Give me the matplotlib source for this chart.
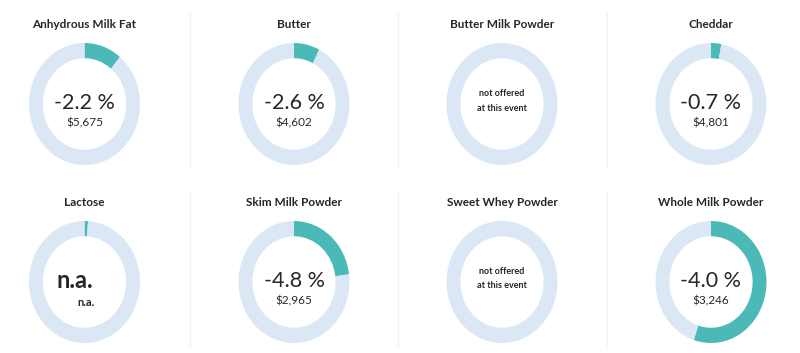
import matplotlib
matplotlib.use("Agg")
import matplotlib.pyplot as plt

products = ["Anhydrous Milk Fat", "Butter", "Butter Milk Powder", "Cheddar",
            "Lactose", "Skim Milk Powder", "Sweet Whey Powder", "Whole Milk Powder"]
pct_labels = ["-2.2 %", "-2.6 %", None, "-0.7 %", "n.a.", "-4.8 %", None, "-4.0 %"]
price_labels = ["$5,675", "$4,602", None, "$4,801", "n.a.", "$2,965", None, "$3,246"]
arc_share = [0.11, 0.075, None, 0.03, 0.01, 0.23, None, 0.55]

W, H = 800, 353
TEAL = "#4cb9b9"
LIGHT = "#dce7f5"
TXT = "#262626"
FONT = ["Lato", "DejaVu Sans"]

fig = plt.figure(figsize=(8, 3.53), dpi=100)
fig.patch.set_facecolor("white")

col_cx = [84.5, 294, 502, 711]
row_cy = [104, 282]
title_y = [24, 202]
rx, ry = 55.5, 61

def fx(x):
    return x / W

def fy(y):
    return 1 - y / H

# faint separators
for sx in [189.5, 398, 606.5]:
    for (y0, y1) in [(13, 167), (191, 345)]:
        fig.add_artist(plt.Line2D([fx(sx), fx(sx)], [fy(y0), fy(y1)],
                                  color="#f1f1f1", lw=1, transform=fig.transFigure))

for i, name in enumerate(products):
    r, c = divmod(i, 4)
    cx, cy = col_cx[c], row_cy[r]
    ax = fig.add_axes([fx(cx - rx), fy(cy + ry), 2 * rx / W, 2 * ry / H])
    share = arc_share[i]
    if share is None:
        vals, cols = [1], [LIGHT]
    else:
        vals, cols = [share, 1 - share], [TEAL, LIGHT]
    wedges, _ = ax.pie(vals, colors=cols, startangle=90, counterclock=False,
                       radius=1, wedgeprops=dict(width=0.25, linewidth=0))
    for w in wedges:
        w.set_clip_on(False)
    ax.set_aspect("auto")
    ax.set_xlim(-1, 1)
    ax.set_ylim(-1, 1)
    ax.axis("off")

    fig.text(fx(cx), fy(title_y[r]), name, ha="center", va="center",
             fontsize=8.5, fontweight="bold", color=TXT, family=FONT)

    if pct_labels[i] is None:
        fig.text(fx(cx), fy(cy - 11), "not offered", ha="center", va="center",
                 fontsize=6.5, fontweight="bold", color=TXT, family=FONT)
        fig.text(fx(cx), fy(cy + 4), "at this event", ha="center", va="center",
                 fontsize=6.5, fontweight="bold", color=TXT, family=FONT)
    elif pct_labels[i] == "n.a.":
        fig.text(fx(cx - 10), fy(cy - 2), pct_labels[i], ha="center", va="center",
                 fontsize=17, fontweight="bold", color=TXT, family=FONT)
        fig.text(fx(cx + 1), fy(cy + 20), price_labels[i], ha="center", va="center",
                 fontsize=8, fontweight="bold", color=TXT, family=FONT)
    else:
        fig.text(fx(cx), fy(cy - 1), pct_labels[i], ha="center", va="center",
                 fontsize=15.5, color=TXT, family=FONT)
        fig.text(fx(cx), fy(cy + 19), price_labels[i], ha="center", va="center",
                 fontsize=8.5, color=TXT, family=FONT)

fig.savefig("out.png", dpi=100, facecolor="white")
